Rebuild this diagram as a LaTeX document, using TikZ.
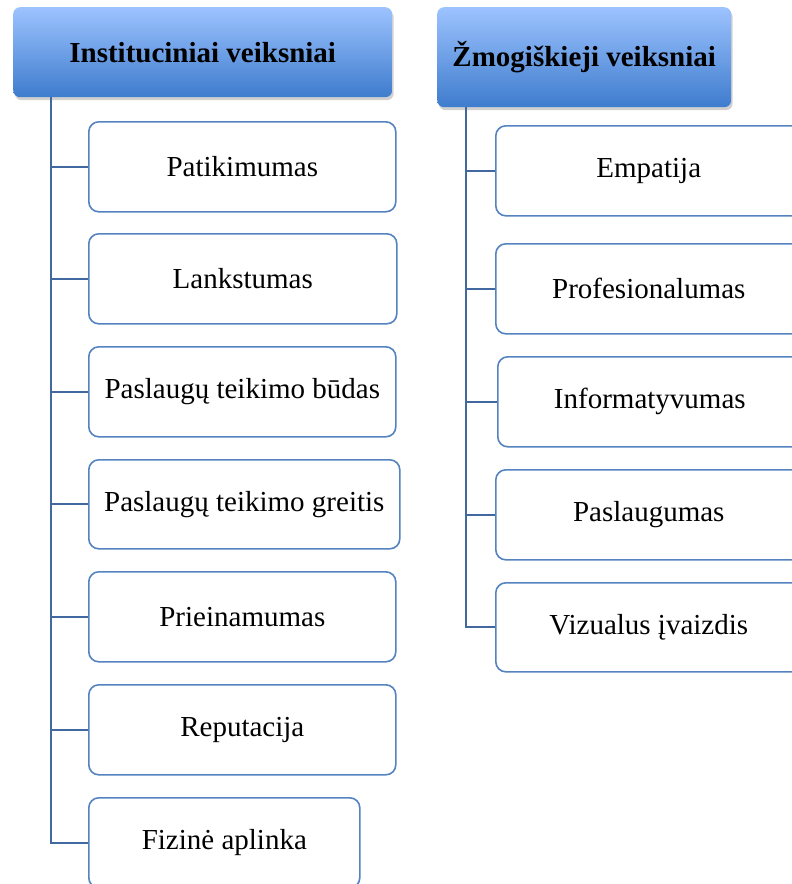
\documentclass[tikz,border=0pt]{standalone}
\usepackage{fontspec}
\setmainfont{Liberation Serif}
\usetikzlibrary{shadows}
\definecolor{hdrtop}{HTML}{9DC3FF}
\definecolor{hdrbot}{HTML}{3E7CCD}
\definecolor{boxline}{HTML}{5483BF}
\definecolor{linkline}{HTML}{4169A0}
\tikzset{
  hdr/.style={rectangle, rounded corners=7pt, anchor=north west, top color=hdrtop, bottom color=hdrbot, draw=none,
    drop shadow={opacity=0.3, shadow xshift=1.5pt, shadow yshift=-3pt, fill=black!60},
    font=\fontsize{29}{34}\selectfont\bfseries, inner sep=0pt},
  item/.style={rectangle, rounded corners=10pt, anchor=north west, draw=boxline, line width=1.6pt, fill=white,
    font=\fontsize{29}{34}\selectfont, inner sep=0pt},
  link/.style={draw=linkline, line width=2pt},
}
\newcommand{\boxat}[6]{% name, left, top, right, bottom, text
  \node[item, minimum width={(#4-#2)*1pt}, minimum height={(#5-#3)*1pt}] (#1) at (#2,#3) {#6};}
\begin{document}
\begin{tikzpicture}[x=1pt,y=-1pt]
\useasboundingbox (0,0) rectangle (792,884);
\clip (0,0) rectangle (792,884);
\fill[white] (0,0) rectangle (792,884);
% headers
\node[hdr, minimum width=379pt, minimum height=90pt] (h1) at (13,7) {Instituciniai veiksniai};
\node[hdr, minimum width=294pt, minimum height=100pt] (h2) at (437,7) {Žmogiškieji veiksniai};
% left items
\boxat{a1}{88}{121}{395}{211}{Patikimumas}
\boxat{a2}{88}{233}{396}{323}{Lankstumas}
\boxat{a3}{88}{346}{395}{436}{Paslaugų teikimo būdas}
\boxat{a4}{88}{459}{399}{548}{Paslaugų teikimo greitis}
\boxat{a5}{88}{571}{395}{661}{Prieinamumas}
\boxat{a6}{88}{684}{395}{774}{Reputacija}
\boxat{a7}{88}{797}{359}{887}{Fizinė aplinka}
% right items
\boxat{b1}{495}{125}{801}{215}{Empatija}
\boxat{b2}{495}{243}{801}{333}{Profesionalumas}
\boxat{b3}{497}{356}{801}{446}{Informatyvumas}
\boxat{b4}{495}{469}{801}{559}{Paslaugumas}
\boxat{b5}{495}{582}{801}{671}{Vizualus įvaizdis}
% connectors
\coordinate (t1) at ([xshift=-151.5pt]h1.south);
\coordinate (t2) at ([xshift=-118pt]h2.south);
\draw[link] (t1) |- (a7.west);
\foreach \n in {a1,a2,a3,a4,a5,a6} \draw[link] (t1 |- \n.west) -- (\n.west);
\draw[link] (t2) |- (b5.west);
\foreach \n in {b1,b2,b3,b4} \draw[link] (t2 |- \n.west) -- (\n.west);
\end{tikzpicture}
\end{document}
